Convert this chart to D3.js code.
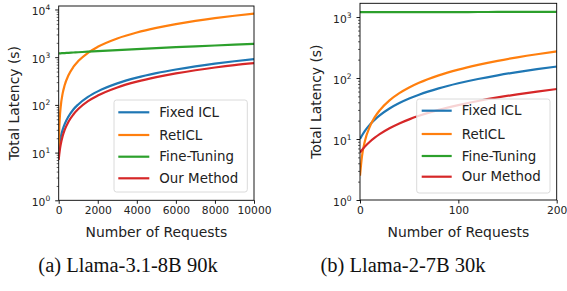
<!DOCTYPE html>
<html>
<head>
<meta charset="utf-8">
<script src="https://cdn.jsdelivr.net/npm/d3@7"></script>
<style>
body { margin: 0; background: #fff; }
svg { display: block; font-family: "DejaVu Sans", sans-serif; }
</style>
</head>
<body>
<svg id="chart" width="567" height="291"></svg>
<script>
const seriesNames = ["Fixed ICL", "RetICL", "Fine-Tuning", "Our Method"];
const seriesColors = ["#1f77b4", "#ff7f0e", "#2ca02c", "#d62728"];

// (a) Llama-3.1-8B 90k
const requestsA = [0, 25, 50, 100, 200, 300, 500, 750, 1000, 1500, 2000, 3000, 4000, 5000, 6000, 7000, 8000, 9000, 10000];
const fixedA = [12, 14, 16.5, 21, 30, 39, 57, 80, 102, 147, 192, 282, 372, 462, 552, 642, 732, 822, 910];
const retA = [8, 28, 49, 90, 172, 254, 418, 623, 828, 1238, 1648, 2468, 3288, 4108, 4928, 5748, 6568, 7388, 8200];
const fineA = [1200, 1202, 1204, 1207, 1214, 1221, 1235, 1253, 1270, 1305, 1340, 1410, 1480, 1550, 1620, 1690, 1760, 1830, 1900];
const oursA = [7, 8.9, 10.8, 14.5, 22, 29.5, 44.5, 63, 82, 120, 157, 232, 307, 382, 457, 532, 607, 682, 750];
const xTicksA = [0, 2000, 4000, 6000, 8000, 10000];

// (b) Llama-2-7B 30k
const requestsB = [0, 2, 5, 10, 15, 20, 30, 40, 50, 60, 80, 100, 120, 140, 160, 180, 200];
const fixedB = [10, 11.4, 13.6, 17.2, 20.8, 24.4, 31.6, 38.8, 46, 53.2, 67.6, 82, 96.4, 110.8, 125.2, 139.6, 154];
const retB = [2.5, 5.2, 9.3, 16, 22.8, 29.5, 43, 56.5, 70, 83.5, 110.5, 137.5, 164.5, 191.5, 218.5, 245.5, 272.5];
const fineB = [1200, 1200, 1200, 1201, 1201, 1201, 1202, 1203, 1204, 1204, 1206, 1207, 1208, 1210, 1211, 1213, 1214];
const oursB = [6, 6.6, 7.5, 9, 10.5, 12, 15, 18, 21, 24, 30, 36, 42, 48, 54, 60, 66];
const xTicksB = [0, 100, 200];

const yExpTicksA = [0, 1, 2, 3, 4];
const yExpTicksB = [0, 1, 2, 3];
const captions = ["(a) Llama-3.1-8B 90k", "(b) Llama-2-7B 30k"];

const svg = d3.select("#chart");

const panels = [
  { id: "a", x0: 58.7, x1: 254, y0: 6, y1: 200.3, xMax: 10000, yTopExp: 4.073,
    req: requestsA, series: [fixedA, retA, fineA, oursA], xTicks: xTicksA, yExp: yExpTicksA,
    yLabelX: 14, legend: { x: 114, y: 100, w: 133.3, h: 92, lineX0: 118.3, lineX1: 149.3, textX: 159.3, rows: [112.3, 135, 156.7, 178.3] },
    caption: captions[0], capX: 128 },
  { id: "b", x0: 360, x1: 556.7, y0: 3.3, y1: 200, xMax: 200, yTopExp: 3.225,
    req: requestsB, series: [fixedB, retB, fineB, oursB], xTicks: xTicksB, yExp: yExpTicksB,
    yLabelX: 316, legend: { x: 416.7, y: 99, w: 133.3, h: 94, lineX0: 421.7, lineX1: 451.7, textX: 461.7, rows: [110.7, 134, 156, 176.7] },
    caption: captions[1], capX: 403 }
];

panels.forEach(p => {
  const x = d3.scaleLinear().domain([0, p.xMax]).range([p.x0, p.x1]);
  const y = d3.scaleLog().domain([1, Math.pow(10, p.yTopExp)]).range([p.y1, p.y0]);
  const g = svg.append("g");

  g.append("clipPath").attr("id", "clip-" + p.id)
    .append("rect").attr("x", p.x0).attr("y", p.y0).attr("width", p.x1 - p.x0).attr("height", p.y1 - p.y0);

  // curves
  const line = d3.line().x((d, i) => x(p.req[i])).y(d => y(d)).curve(d3.curveMonotoneX);
  const plot = g.append("g").attr("clip-path", "url(#clip-" + p.id + ")");
  p.series.forEach((s, k) => {
    plot.append("path").datum(s).attr("d", line).attr("fill", "none")
      .attr("stroke", seriesColors[k]).attr("stroke-width", 2.2);
  });

  // x axis
  const xAxis = g.append("g").attr("transform", `translate(0,${p.y1})`)
    .call(d3.axisBottom(x).tickValues(p.xTicks).tickSize(3.5).tickPadding(3).tickFormat(d3.format("d")));
  xAxis.select(".domain").remove();
  xAxis.selectAll("line").attr("stroke", "#000").attr("stroke-width", 0.9);
  xAxis.selectAll("text").attr("font-size", "10.7px").attr("font-family", "DejaVu Sans").attr("fill", "#222");

  // y axis: major and minor log ticks
  const minor = [];
  for (let e = 0; e < Math.ceil(p.yTopExp); e++) {
    for (let m = 2; m <= 9; m++) {
      const v = m * Math.pow(10, e);
      if (Math.log10(v) <= p.yTopExp) minor.push(v);
    }
  }
  const yMinor = g.append("g").attr("transform", `translate(${p.x0},0)`)
    .call(d3.axisLeft(y).tickValues(minor).tickSize(2).tickFormat(""));
  yMinor.select(".domain").remove();
  yMinor.selectAll("line").attr("stroke", "#000").attr("stroke-width", 0.6);

  const yMajor = g.append("g").attr("transform", `translate(${p.x0},0)`)
    .call(d3.axisLeft(y).tickValues(p.yExp.map(e => Math.pow(10, e))).tickSize(3.5).tickFormat(""));
  yMajor.select(".domain").remove();
  yMajor.selectAll("line").attr("stroke", "#000").attr("stroke-width", 0.9);

  p.yExp.forEach(e => {
    const t = g.append("text").attr("x", p.x0 - 8.5).attr("y", y(Math.pow(10, e)) + 5.5)
      .attr("text-anchor", "end").attr("font-size", "10.7px").attr("fill", "#222");
    t.append("tspan").text("10");
    t.append("tspan").attr("dy", -5).attr("font-size", "7.5px").text(e);
  });

  // frame
  g.append("rect").attr("x", p.x0).attr("y", p.y0).attr("width", p.x1 - p.x0).attr("height", p.y1 - p.y0)
    .attr("fill", "none").attr("stroke", "#000").attr("stroke-width", 0.9);

  // axis labels
  g.append("text").attr("x", (p.x0 + p.x1) / 2).attr("y", 236.5).attr("text-anchor", "middle")
    .attr("font-size", "13.9px").attr("fill", "#222").text("Number of Requests");
  g.append("text").attr("transform", `translate(${p.yLabelX},${(p.y0 + p.y1) / 2}) rotate(-90)`)
    .attr("text-anchor", "middle").attr("dominant-baseline", "central")
    .attr("font-size", "13.9px").attr("fill", "#222").text("Total Latency (s)");

  // legend
  const L = p.legend;
  g.append("rect").attr("x", L.x).attr("y", L.y).attr("width", L.w).attr("height", L.h).attr("rx", 2.5)
    .attr("fill", "#fff").attr("fill-opacity", 0.8).attr("stroke", "#d6d6d6").attr("stroke-width", 0.9);
  seriesNames.forEach((name, k) => {
    g.append("line").attr("x1", L.lineX0).attr("x2", L.lineX1).attr("y1", L.rows[k]).attr("y2", L.rows[k])
      .attr("stroke", seriesColors[k]).attr("stroke-width", 2.2);
    g.append("text").attr("x", L.textX).attr("y", L.rows[k]).attr("dominant-baseline", "central")
      .attr("font-size", "13.4px").attr("fill", "#222").text(name);
  });

  // caption
  svg.append("text").attr("x", p.capX).attr("y", 271.5).attr("text-anchor", "middle")
    .attr("font-family", "'Liberation Serif', 'Times New Roman', serif").attr("font-size", "20.5px")
    .attr("fill", "#111").text(p.caption);
});
</script>
</body>
</html>
